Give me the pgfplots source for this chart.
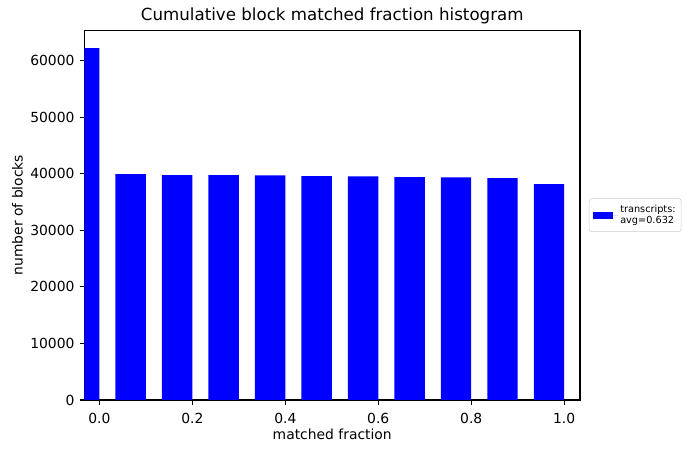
\documentclass[border=0pt]{standalone}
\usepackage{pgfplots}
\pgfplotsset{compat=1.18}
\usepackage{fontspec}
\setmainfont{DejaVu Sans}
\begin{document}
\begin{tikzpicture}
\useasboundingbox (-60.84bp,-38.16bp) rectangle (435.96bp,288bp);
\begin{axis}[
  at={(0,0)}, anchor=south west,
  scale only axis, width=356.76bp, height=266.2bp,
  xmin=-0.032, xmax=1.034, ymin=0, ymax=65370,
  /pgf/number format/assume math mode=true,
  tick align=outside, xtick pos=bottom, ytick pos=left,
  major tick length=3.5bp,
  every tick/.style={black, line width=0.8bp},
  axis line style={line width=0.8bp},
  xtick={0,0.2,0.4,0.6,0.8,1.0},
  xticklabels={0.0,0.2,0.4,0.6,0.8,1.0},
  ytick={0,10000,20000,30000,40000,50000,60000},
  yticklabels={0,10000,20000,30000,40000,50000,60000},
  scaled y ticks=false,
  tick label style={font=\fontsize{10bp}{12bp}\selectfont},
  xticklabel style={inner sep=0pt, yshift=-6.1bp},
  yticklabel style={inner sep=0pt, xshift=-3.5bp},
  every axis title shift=0pt,
  title={Cumulative block matched fraction histogram},
  title style={font=\fontsize{12bp}{14bp}\selectfont, at={(axis description cs:0.5,1)}, anchor=base, yshift=6.7bp, inner sep=0pt},
  xlabel={matched fraction},
  xlabel style={font=\fontsize{10bp}{12bp}\selectfont, at={(axis description cs:0.5,0)}, anchor=base, yshift=-28.1bp, inner sep=0pt},
  ylabel={number of blocks},
  every axis y label/.style={at={(axis description cs:0,0.5)}, rotate=90, anchor=base, yshift=44.6bp, font=\fontsize{10bp}{12bp}\selectfont, inner sep=0pt},
  ybar, bar width=0.0655, bar shift=0pt,
  legend style={at={(axis description cs:1,0.5)}, anchor=west, xshift=6.4bp,
    draw={rgb,255:red,204;green,204;blue,204}, rounded corners=2bp,
    font=\fontsize{7bp}{8bp}\selectfont, inner xsep=2.5bp, inner ysep=3bp,
    nodes={align=left, inner sep=1.5bp, sharp corners}},
  legend cell align=left,
]
\addplot[fill=blue, draw=none,
  legend image code/.code={\fill[blue, sharp corners] (0bp,-2.6bp) rectangle (14.4bp,2.6bp);
    \path (0bp,0bp) -- (18.4bp,0bp);}]
coordinates {
(-0.03275,62200)
(0.06725,39950)
(0.16725,39780)
(0.26725,39750)
(0.36725,39720)
(0.46725,39580)
(0.56725,39550)
(0.66725,39420)
(0.76725,39380)
(0.86725,39230)
(0.96725,38150)
};
\addlegendentry{transcripts:\\avg=0.632}
\end{axis}
\end{tikzpicture}
\end{document}
